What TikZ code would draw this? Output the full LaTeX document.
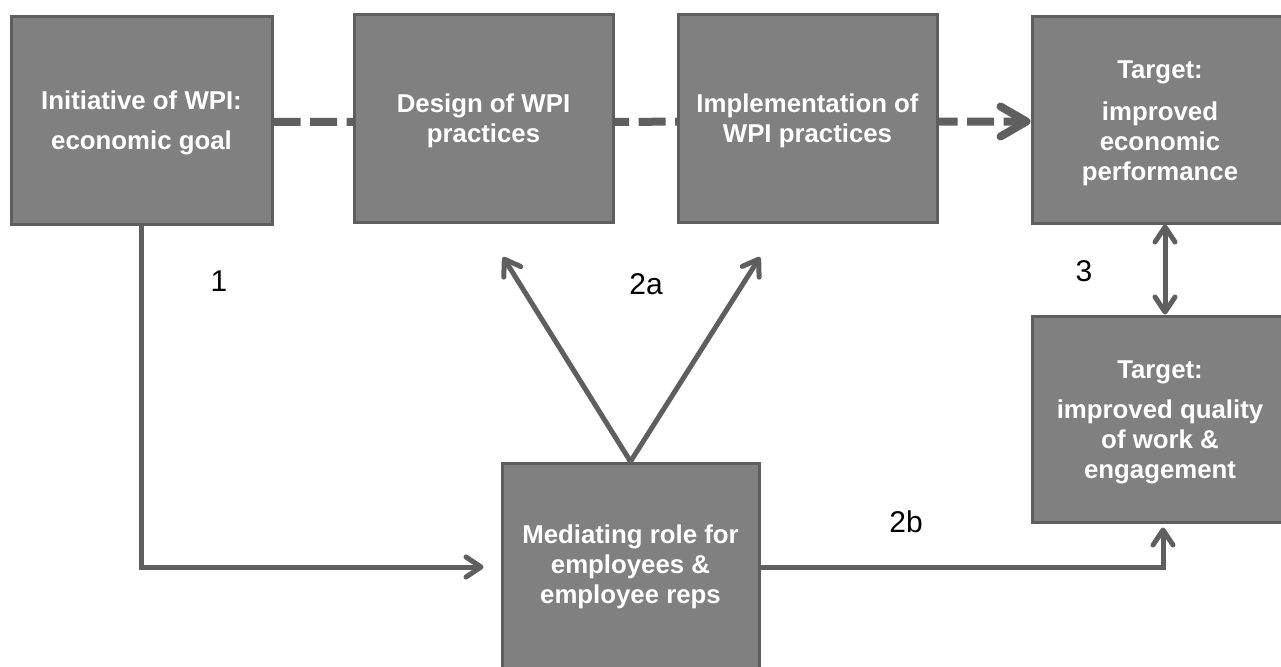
\documentclass[tikz,border=0pt]{standalone}
\usepackage{fontspec}
\setmainfont{Liberation Sans}
\usetikzlibrary{arrows.meta,backgrounds}
\definecolor{boxfill}{HTML}{808080}
\definecolor{boxline}{HTML}{5E5E5E}
\definecolor{linecol}{HTML}{5F5F5F}
\newcommand{\topstrut}{\rule{0pt}{24pt}}
\begin{document}
\begin{tikzpicture}[x=1pt,y=-1pt,
  box/.style={draw=boxline, line width=3pt, fill=boxfill, inner sep=0pt,
    align=center, text=white, font=\fontsize{25.8}{30}\selectfont\bfseries},
  lab/.style={font=\fontsize{30}{34}\selectfont, text=black, inner sep=0pt},
  conn/.style={draw=linecol, line width=5pt,
    -{Straight Barb[length=15pt,width=20pt,round]}},
  dblconn/.style={draw=linecol, line width=5pt,
    {Straight Barb[length=15pt,width=20pt,round]}-{Straight Barb[length=15pt,width=20pt,round]}},
  dashconn/.style={draw=linecol, line width=8pt, dash pattern=on 27pt off 9.5pt,
    -{Straight Barb[length=26pt,width=30pt,round]}}
]
\useasboundingbox (0,0) rectangle (1281,666);
\clip (0,0) rectangle (1281,666);

\node[box, minimum width=261pt, minimum height=207pt] (b1) at (141.5,120.5)
  {\topstrut Initiative of WPI:\\[10pt] economic goal};
\node[box, minimum width=259pt, minimum height=207pt] (b2) at (483.5,118.5)
  {\topstrut Design of WPI\\ practices};
\node[box, minimum width=259pt, minimum height=207pt] (b3) at (807.5,118.5)
  {\topstrut Implementation of\\ WPI practices};
\node[box, minimum width=256pt, minimum height=206pt] (b4) at (1160,120)
  {\topstrut Target:\\[12pt] improved\\ economic\\ performance};
\node[box, minimum width=256pt, minimum height=206pt] (b5) at (1160,419)
  {\topstrut Target:\\[10pt] improved quality\\ of work \&\\ engagement};
\node[box, minimum width=257pt, minimum height=208pt] (b6) at (630.5,567)
  {Mediating role for\\ employees \&\\ employee reps};

\begin{scope}[on background layer]
  \draw[dashconn] ([yshift=-1.5pt]b1.east) -- ([yshift=-1.5pt]b4.west);
\end{scope}

\coordinate (t2l) at (503,257);
\coordinate (t2r) at (760,257);

\draw[conn, shorten >=17pt] (b1.south) |- (b6.west);
\draw[conn] (b6.north) -- (t2l);
\draw[conn] (b6.north) -- (t2r);
\draw[conn, shorten >=4pt] (b6.east) -| ([xshift=3pt]b5.south);
\draw[dblconn] ([xshift=5pt]b4.south) -- ([xshift=5pt]b5.north);

\node[lab] (l1) at (219,281) {1};
\node[lab] (l2a) at (646,284) {2a};
\node[lab] (l3) at (1084,271) {3};
\node[lab] (l2b) at (906,522) {2b};
\end{tikzpicture}
\end{document}
